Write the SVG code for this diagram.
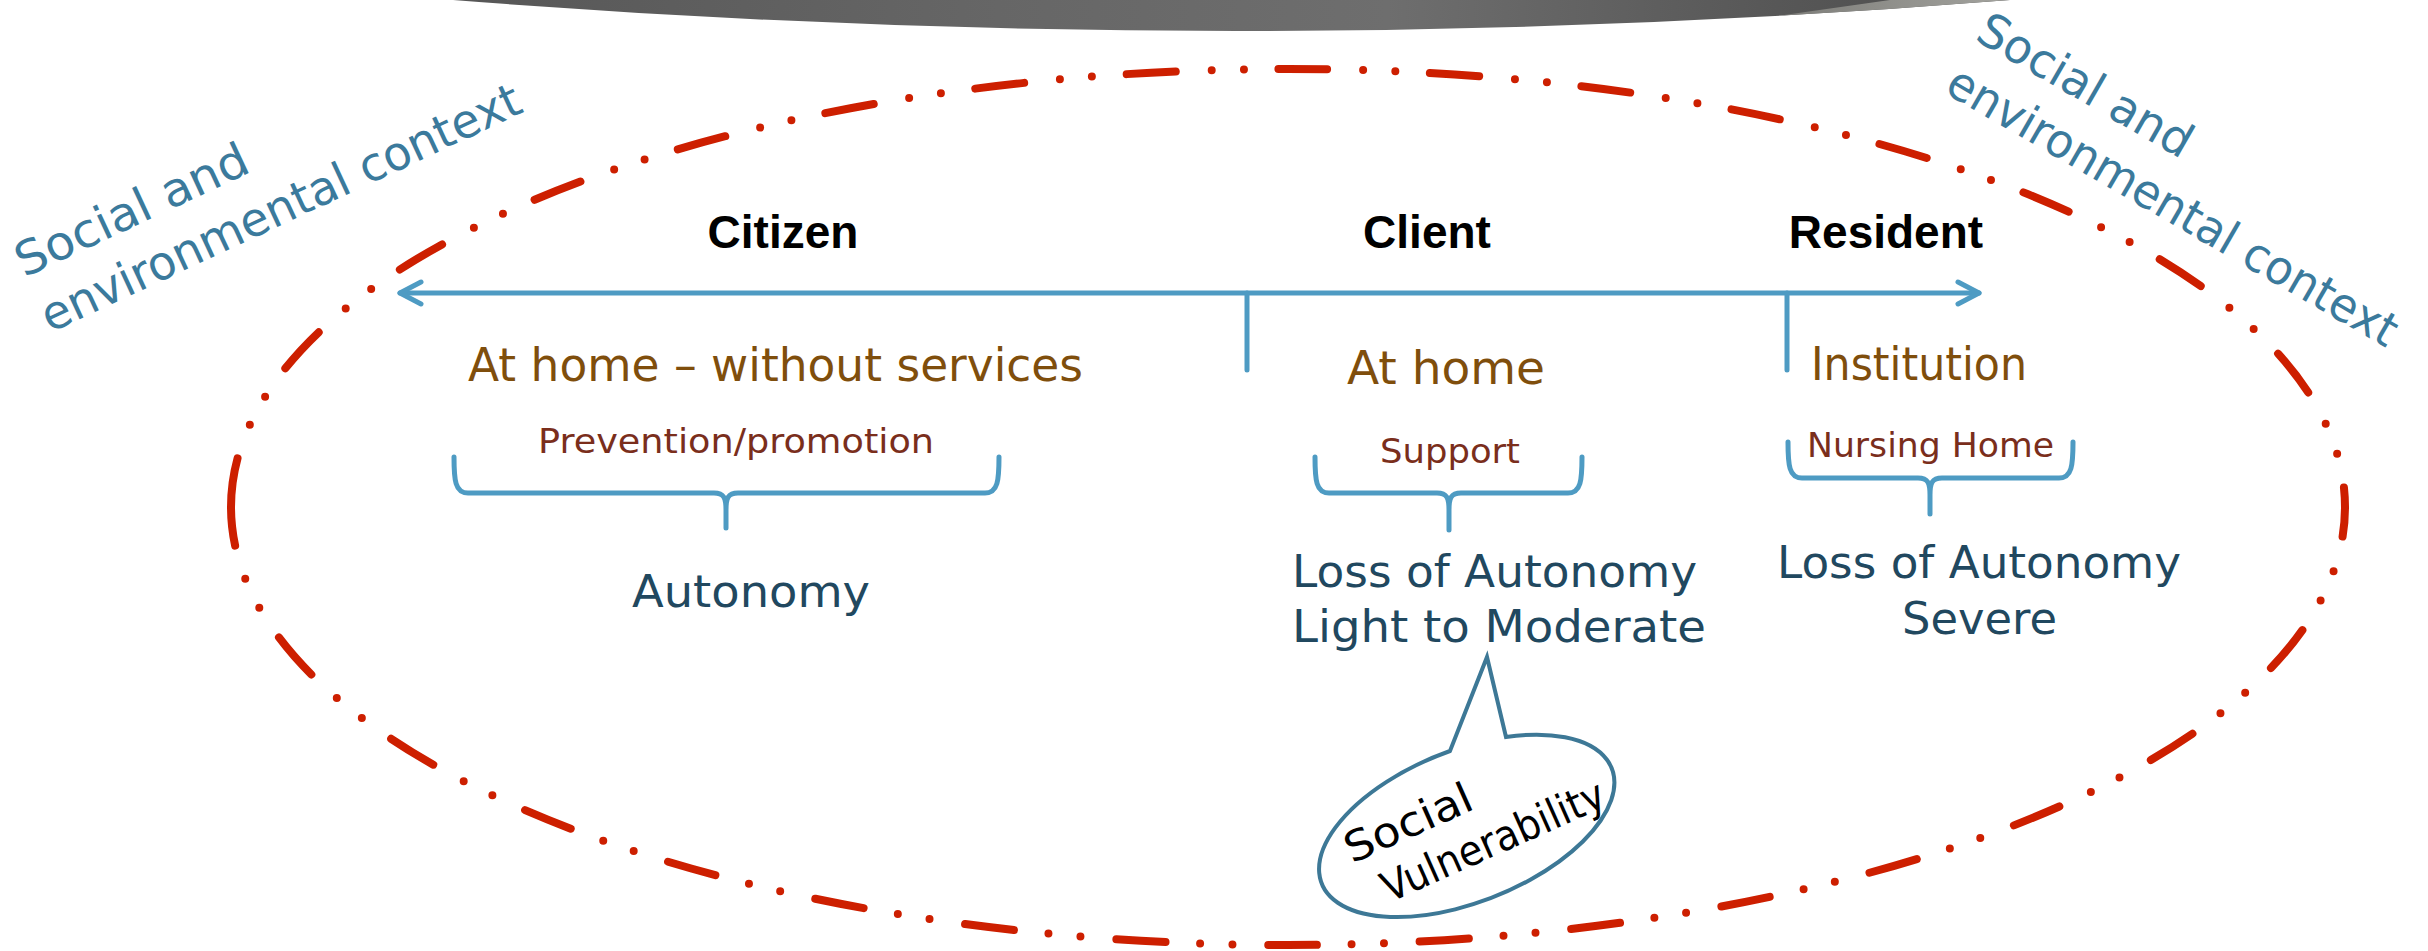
<svg xmlns="http://www.w3.org/2000/svg" width="2428" height="951" viewBox="0 0 2428 951">
<defs>
<style>
.lbl{font-family:"Liberation Sans",Arial,sans-serif;font-weight:bold;font-size:46px;fill:#000;text-anchor:middle}
.place{font-family:"DejaVu Sans",sans-serif;font-size:46px;fill:#7F4E0C}
.svc{font-family:"DejaVu Sans",sans-serif;font-size:34px;fill:#7A2E1C}
.aut{font-family:"DejaVu Sans",sans-serif;font-size:45px;fill:#21485F}
.ctx{font-family:"DejaVu Sans",sans-serif;font-size:47px;fill:#3B7A9C}
.bub{font-family:"DejaVu Sans",sans-serif;font-size:42px;fill:#000}
.blue{fill:none;stroke:#4E9BC3;stroke-width:5;stroke-linecap:round;stroke-linejoin:round}
</style>
<linearGradient id="grayG" gradientUnits="userSpaceOnUse" x1="453" y1="0" x2="2010" y2="0">
<stop offset="0" stop-color="#575757"/>
<stop offset="0.35" stop-color="#666666"/>
<stop offset="0.6" stop-color="#6e6e6e"/>
<stop offset="0.85" stop-color="#575757"/>
<stop offset="1" stop-color="#4c4c4c"/>
</linearGradient>
<linearGradient id="lightG" gradientUnits="userSpaceOnUse" x1="1780" y1="0" x2="2010" y2="0">
<stop offset="0" stop-color="#7d7d79"/>
<stop offset="1" stop-color="#a3a39e"/>
</linearGradient>
<marker id="chev" markerUnits="userSpaceOnUse" viewBox="-28 -16 34 32" refX="0" refY="0" markerWidth="34" markerHeight="32" orient="auto-start-reverse">
<path d="M-21,-11 L0,0 L-21,11" fill="none" stroke="#4E9BC3" stroke-width="5" stroke-linecap="round" stroke-linejoin="round"/>
</marker>
</defs>

<g id="header-band">
<path d="M453,0 Q1240,62 2010,0 Z" fill="url(#grayG)"/>
<path d="M1779,15.8 Q1894.5,9.3 2010,0 L1890,0 Z" fill="url(#lightG)"/>
</g>

<g id="context-ellipse">
<path d="M231,507 A1057,438 0 0 1 2345,507 A1057,438 0 0 1 231,507" fill="none" stroke="#CD1F00" stroke-width="8" stroke-linecap="round" stroke-dasharray="49.2 35.9 0 32.1 0 34.7"/>
</g>

<g id="context-left" transform="translate(50,333) rotate(-25)">
<text class="ctx" x="0" y="-61" textLength="252" lengthAdjust="spacingAndGlyphs">Social and</text>
<text class="ctx" x="0" y="0" textLength="524" lengthAdjust="spacingAndGlyphs">environmental context</text>
</g>

<g id="context-right" transform="translate(1943,92) rotate(30)">
<text class="ctx" x="0" y="-61" textLength="240" lengthAdjust="spacingAndGlyphs">Social and</text>
<text class="ctx" x="0" y="0" textLength="512" lengthAdjust="spacingAndGlyphs">environmental context</text>
</g>

<g id="connectors">
<line class="blue" x1="400" y1="293" x2="1979" y2="293" stroke-linecap="butt" marker-start="url(#chev)" marker-end="url(#chev)"/>
<line class="blue" x1="1247" y1="293" x2="1247" y2="370" stroke-width="4"/>
<line class="blue" x1="1787" y1="293" x2="1787" y2="370" stroke-width="4"/>
<path class="blue" d="M454,457 C454,480 455,493 468,493 L714,493 C724,493 726,498 726,510 L726,528 M726,510 C726,498 728,493 738,493 L985,493 C998,493 999,480 999,457"/>
<path class="blue" d="M1315,457 C1315,480 1316,493 1329,493 L1437,493 C1447,493 1449,498 1449,510 L1449,530 M1449,510 C1449,498 1451,493 1461,493 L1568,493 C1581,493 1582,480 1582,457"/>
<path class="blue" d="M1788,442 C1788,465 1789,478 1802,478 L1918,478 C1928,478 1930,483 1930,495 L1930,514 M1930,495 C1930,483 1932,478 1942,478 L2059,478 C2072,478 2073,465 2073,442"/>
</g>

<g id="citizen">
<text class="lbl" x="783" y="248">Citizen</text>
<text class="place" x="468" y="381" textLength="615" lengthAdjust="spacingAndGlyphs">At home – without services</text>
<text class="svc" x="538" y="453" textLength="396" lengthAdjust="spacingAndGlyphs">Prevention/promotion</text>
<text class="aut" x="632" y="607" textLength="238" lengthAdjust="spacingAndGlyphs">Autonomy</text>
</g>

<g id="client">
<text class="lbl" x="1427" y="248">Client</text>
<text class="place" x="1347" y="384" textLength="198" lengthAdjust="spacingAndGlyphs">At home</text>
<text class="svc" x="1380" y="463" textLength="140" lengthAdjust="spacingAndGlyphs">Support</text>
<text class="aut" x="1292" y="587" textLength="405" lengthAdjust="spacingAndGlyphs">Loss of Autonomy</text>
<text class="aut" x="1292" y="642" textLength="414" lengthAdjust="spacingAndGlyphs">Light to Moderate</text>
</g>

<g id="resident">
<text class="lbl" x="1886" y="248">Resident</text>
<text class="place" x="1811" y="380" textLength="216" lengthAdjust="spacingAndGlyphs">Institution</text>
<text class="svc" x="1807" y="457" textLength="247" lengthAdjust="spacingAndGlyphs">Nursing Home</text>
<text class="aut" x="1777" y="578" textLength="404" lengthAdjust="spacingAndGlyphs">Loss of Autonomy</text>
<text class="aut" x="1902" y="634" textLength="155" lengthAdjust="spacingAndGlyphs">Severe</text>
</g>

<g id="social-vulnerability">
<path d="M1506,737 L1487,657 L1450,751 A156,76 -21.7 1 0 1506,737 Z" fill="#fff" stroke="#3D7896" stroke-width="4" stroke-linejoin="miter"/>
<g transform="translate(1471,826) rotate(-24)">
<text class="bub" x="-124" y="-14" textLength="136" lengthAdjust="spacingAndGlyphs">Social</text>
<text class="bub" x="-106" y="37" textLength="240" lengthAdjust="spacingAndGlyphs">Vulnerability</text>
</g>
</g>
</svg>
